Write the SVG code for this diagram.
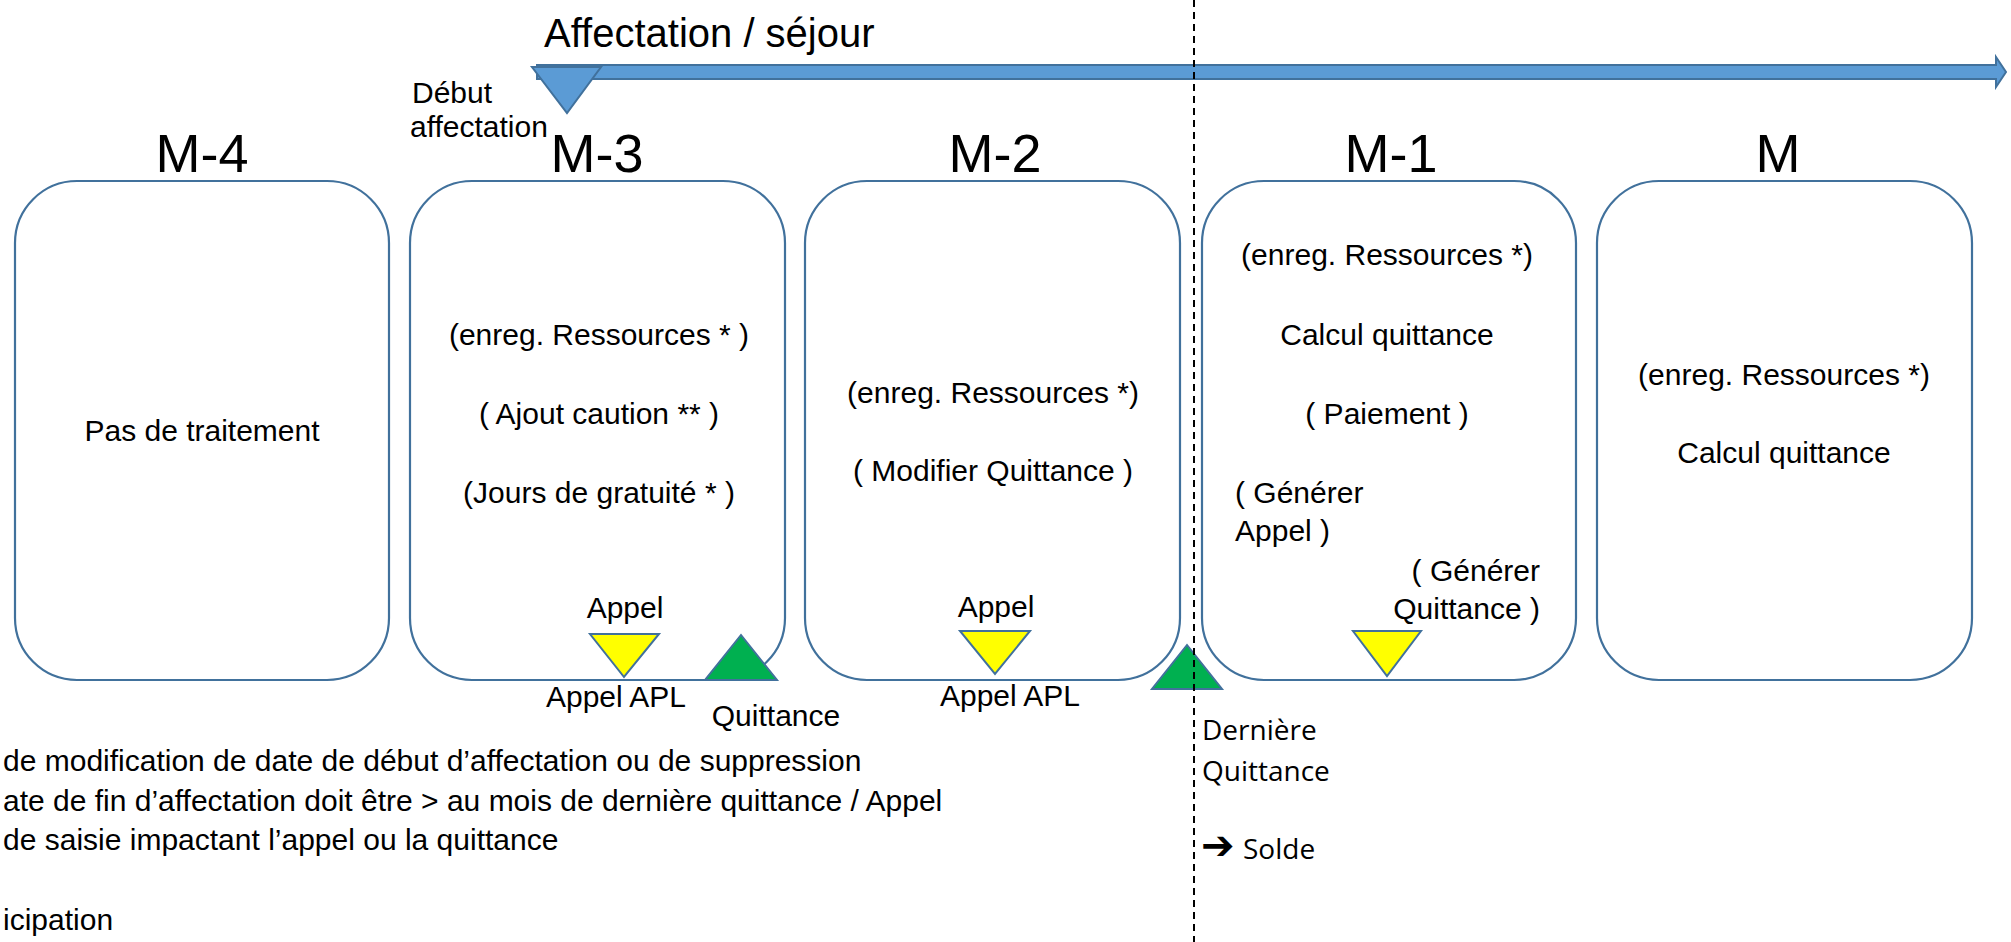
<svg xmlns="http://www.w3.org/2000/svg" width="2011" height="942" viewBox="0 0 2011 942">
<defs>
<style>
.box{fill:#fff;stroke:#41719C;stroke-width:2.2}
.t{font-family:"Liberation Sans",Arial,sans-serif;font-size:30px;fill:#000}
.c{text-anchor:middle}
.r{text-anchor:end}
.mt{font-family:"Liberation Sans",Arial,sans-serif;font-size:54px;fill:#000;text-anchor:middle}
.o{font-family:"Open Sans","DejaVu Sans",sans-serif;font-size:28px;fill:#000}
.yel{fill:#FFFF00;stroke:#41719C;stroke-width:2}
.grn{fill:#00B050;stroke:#41719C;stroke-width:2}
.blue{fill:#5B9BD5;stroke:#41719C;stroke-width:2}
</style>
</defs>
<rect width="2011" height="942" fill="#fff"/>

<g id="timeline-title">
<text class="t" x="544" y="47" style="font-size:40px">Affectation / séjour</text>
</g>

<g id="connectors">
<polygon class="blue" points="537,65 1996,65 1996,57 2006,72 1996,87 1996,79 537,79"/>
</g>

<g id="debut-affectation">
<polygon class="blue" points="532,67 601,67 567,113"/>
<text class="t" x="412" y="103">Début</text>
<text class="t" x="410" y="137">affectation</text>
</g>

<g id="M-4">
<text class="mt" x="202" y="172">M-4</text>
<rect class="box" x="15" y="181" width="374" height="499" rx="62" ry="62"/>
<text class="t c" x="202" y="441">Pas de traitement</text>
</g>

<g id="M-3">
<text class="mt" x="597" y="172">M-3</text>
<rect class="box" x="410" y="181" width="375" height="499" rx="62" ry="62"/>
<text class="t c" x="599" y="345">(enreg. Ressources * )</text>
<text class="t c" x="599" y="424">( Ajout caution ** )</text>
<text class="t c" x="599" y="503">(Jours de gratuité * )</text>
</g>

<g id="M-2">
<text class="mt" x="995" y="172">M-2</text>
<rect class="box" x="805" y="181" width="375" height="499" rx="62" ry="62"/>
<text class="t c" x="993" y="403">(enreg. Ressources *)</text>
<text class="t c" x="993" y="481">( Modifier Quittance )</text>
</g>

<g id="M-1">
<text class="mt" x="1391" y="172">M-1</text>
<rect class="box" x="1202" y="181" width="374" height="499" rx="62" ry="62"/>
<text class="t c" x="1387" y="265">(enreg. Ressources *)</text>
<text class="t c" x="1387" y="345">Calcul quittance</text>
<text class="t c" x="1387" y="424">( Paiement )</text>
<text class="t" x="1235" y="503">( Générer</text>
<text class="t" x="1235" y="541">Appel )</text>
<text class="t r" x="1540" y="581">( Générer</text>
<text class="t r" x="1540" y="619">Quittance )</text>
</g>

<g id="M">
<text class="mt" x="1778" y="172">M</text>
<rect class="box" x="1597" y="181" width="375" height="499" rx="62" ry="62"/>
<text class="t c" x="1784" y="385">(enreg. Ressources *)</text>
<text class="t c" x="1784" y="463">Calcul quittance</text>
</g>

<g id="appel-M-3">
<text class="t c" x="625" y="618">Appel</text>
<polygon class="yel" points="590,634 659,634 624,677"/>
<text class="t c" x="616" y="707">Appel APL</text>
</g>

<g id="quittance-M-3">
<polygon class="grn" points="705,680 777,680 741,635"/>
<text class="t c" x="776" y="726">Quittance</text>
</g>

<g id="appel-M-2">
<text class="t c" x="996" y="617">Appel</text>
<polygon class="yel" points="960,631 1030,631 995,674"/>
<text class="t c" x="1010" y="706">Appel APL</text>
</g>

<g id="appel-M-1">
<polygon class="yel" points="1353,631 1421,631 1387,676"/>
</g>

<g id="derniere-quittance">
<polygon class="grn" points="1152,689 1222,689 1187,645"/>
<text class="o" x="1202" y="740">Dernière</text>
<text class="o" x="1202" y="781">Quittance</text>
<text x="1201" y="859" style="font-size:40px;font-weight:bold;font-family:'DejaVu Sans',sans-serif;fill:#000">➔</text>
<text class="o" x="1243" y="859">Solde</text>
</g>

<g id="notes">
<text class="t" x="3" y="771">de modification de date de début d’affectation ou de suppression</text>
<text class="t" x="3" y="811">ate de fin d’affectation doit être &gt; au mois de dernière quittance / Appel</text>
<text class="t" x="3" y="850">de saisie impactant l’appel ou la quittance</text>
<text class="t" x="3" y="930">icipation</text>
</g>

<g id="separator">
<line x1="1194" y1="0" x2="1194" y2="942" stroke="#000" stroke-width="2" stroke-dasharray="7,5"/>
</g>
</svg>
